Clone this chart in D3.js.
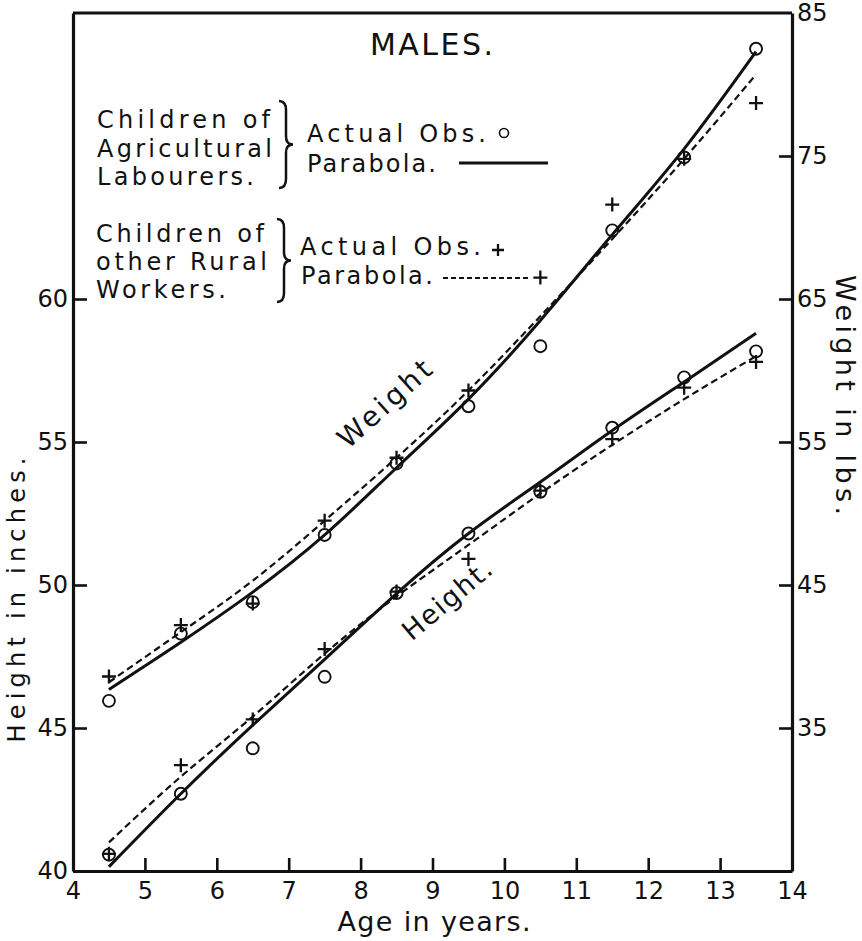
<!DOCTYPE html>
<html><head><meta charset="utf-8">
<script src="https://cdn.jsdelivr.net/npm/d3@7"></script>
<style>body{margin:0;background:#fff}</style>
</head><body><svg id="c" width="862" height="941"></svg>
<script>
// ---------- data ----------
const ages = [4.5, 5.5, 6.5, 7.5, 8.5, 9.5, 10.5, 11.5, 12.5, 13.5];
// Weight (lbs, right axis)
const weightAgriObs   = [36.9, 41.6, 43.8, 48.5, 53.5, 57.5, 61.7, 69.8, 74.9, 82.5];
const weightAgriFit   = [37.7, 41.0, 44.5, 48.5, 53.2, 58.0, 63.5, 69.5, 75.5, 82.3];
const weightOtherObs  = [38.6, 42.2, 43.7, 49.5, 53.9, 58.6, 66.5, 71.6, 74.8, 78.7];
const weightOtherFit  = [38.2, 41.7, 45.3, 49.5, 53.9, 58.6, 63.8, 69.2, 74.8, 80.7];
// Height (inches, left axis)
const heightAgriObs   = [40.57, 42.7, 44.29, 46.79, 49.72, 51.8, 53.26, 55.5, 57.26, 58.17];
const heightAgriFit   = [40.15, 42.7, 45.1, 47.4, 49.7, 51.8, 53.6, 55.4, 57.1, 58.8];
const heightOtherObs  = [40.6, 43.7, 45.3, 47.76, 49.77, 50.91, 53.3, 55.1, 56.9, 57.8];
const heightOtherFit  = [41.0, 43.3, 45.4, 47.6, 49.6, 51.4, 53.2, 54.9, 56.5, 58.0];

const xTicks = [4, 5, 6, 7, 8, 9, 10, 11, 12, 13, 14];
const heightTicks = [40, 45, 50, 55, 60];
const weightTicks = [35, 45, 55, 65, 75, 85];

const titleText = "MALES.";
const legendGroup1 = ["Children of", "Agricultural", "Labourers."];
const legendGroup2 = ["Children of", "other Rural", "Workers."];
const legendObs = "Actual Obs.";
const legendFit = "Parabola.";
const xTitle = "Age in years.";
const yLeftTitle = "Height in inches.";
const yRightTitle = "Weight in lbs.";
const curveLabels = ["Weight", "Height."];

// ---------- drawing ----------
const svg = d3.select("#c");
const ink = "#111";
const font = "DejaVu Sans";
const x = d3.scaleLinear().domain([4, 14]).range([73, 792]);
const yH = d3.scaleLinear().domain([40, 70]).range([871, 13]);
const yW = d3.scaleLinear().domain([25, 85]).range([871, 13]);

// top frame line
svg.append("line")
  .attr("x1", x(4)).attr("x2", x(14)).attr("y1", yH(70)).attr("y2", yH(70))
  .attr("stroke", ink).attr("stroke-width", 3);

function styleAxis(g, fs) {
  g.select(".domain").attr("stroke", ink).attr("stroke-width", 3.2);
  g.selectAll(".tick line").attr("stroke", ink).attr("stroke-width", 2.6);
  g.selectAll(".tick text").attr("fill", ink).attr("font-family", font).attr("font-size", fs);
}
const gx = svg.append("g").attr("transform", `translate(0,${yH(40)})`)
  .call(d3.axisBottom(x).tickValues(xTicks).tickSize(-13).tickSizeOuter(0).tickPadding(11).tickFormat(d3.format("d")));
styleAxis(gx, 24);
const gl = svg.append("g").attr("transform", `translate(${x(4)},0)`)
  .call(d3.axisLeft(yH).tickValues(heightTicks).tickSize(-14).tickSizeOuter(0).tickPadding(5));
styleAxis(gl, 24);
const gr = svg.append("g").attr("transform", `translate(${x(14)},0)`)
  .call(d3.axisRight(yW).tickValues(weightTicks).tickSize(-13).tickSizeOuter(0).tickPadding(5));
styleAxis(gr, 24);
gr.selectAll(".tick").filter(d => d === 85).select("line").remove();

// curves
function drawCurve(vals, yScale, dashed) {
  const pts = ages.map((a, i) => [a, vals[i]]);
  const line = d3.line().x(d => x(d[0])).y(d => yScale(d[1])).curve(d3.curveNatural);
  svg.append("path").attr("d", line(pts)).attr("fill", "none")
    .attr("stroke", ink)
    .attr("stroke-width", dashed ? 2.2 : 3)
    .attr("stroke-dasharray", dashed ? "7,4" : null);
}
drawCurve(weightAgriFit, yW, false);
drawCurve(weightOtherFit, yW, true);
drawCurve(heightAgriFit, yH, false);
drawCurve(heightOtherFit, yH, true);

// markers
function drawCircles(vals, yScale) {
  svg.append("g").selectAll("circle").data(ages.map((a, i) => [a, vals[i]])).join("circle")
    .attr("cx", d => x(d[0])).attr("cy", d => yScale(d[1])).attr("r", 6)
    .attr("fill", "none").attr("stroke", ink).attr("stroke-width", 1.9);
}
function drawPlus(vals, yScale) {
  svg.append("g").selectAll("path").data(ages.map((a, i) => [a, vals[i]])).join("path")
    .attr("transform", d => `translate(${x(d[0])},${yScale(d[1])})`)
    .attr("d", "M-7,0H7M0,-7V7")
    .attr("fill", "none").attr("stroke", ink).attr("stroke-width", 2.3);
}
drawCircles(weightAgriObs, yW);
drawPlus(weightOtherObs, yW);
drawCircles(heightAgriObs, yH);
drawPlus(heightOtherObs, yH);

// text helper: len = target rendered length (spacing adjusted)
function txt(s, xx, yy, fs, len, opts = {}) {
  const t = svg.append("text").attr("x", xx).attr("y", yy).text(s)
    .attr("font-family", font).attr("font-size", fs).attr("fill", ink)
    .attr("text-anchor", opts.anchor || "start");
  if (len) t.attr("textLength", len).attr("lengthAdjust", "spacing");
  if (opts.rot !== undefined) t.attr("transform", `rotate(${opts.rot},${xx},${yy})`);
  return t;
}

// title
txt(titleText, 370, 55, 30, 123);

// legend names
const lens1 = [173, 175, 157];
const lens2 = [168, 171, 130];
legendGroup1.forEach((s, i) => txt(s, 97, 128 + i * 28.5, 24, lens1[i]));
legendGroup2.forEach((s, i) => txt(s, 96, 242 + i * 28, 24, lens2[i]));

function brace(x0, top, bot) {
  const mid = (top + bot) / 2, w = 7;
  const p = `M${x0},${top} Q${x0 + w},${top} ${x0 + w},${top + 9} L${x0 + w},${mid - 8} Q${x0 + w},${mid} ${x0 + w + 7},${mid} Q${x0 + w},${mid} ${x0 + w},${mid + 8} L${x0 + w},${bot - 9} Q${x0 + w},${bot} ${x0},${bot}`;
  svg.append("path").attr("d", p).attr("fill", "none").attr("stroke", ink).attr("stroke-width", 2.5);
}
brace(279, 101, 188);
brace(277, 219, 302);

txt(legendObs, 307, 142, 24, 179);
txt(legendFit, 307, 172, 24, 129);
svg.append("circle").attr("cx", 504).attr("cy", 133).attr("r", 4.5)
  .attr("fill", "none").attr("stroke", ink).attr("stroke-width", 1.6);
svg.append("line").attr("x1", 459).attr("x2", 548).attr("y1", 163).attr("y2", 163)
  .attr("stroke", ink).attr("stroke-width", 3);

txt(legendObs, 300, 255, 24, 181);
txt(legendFit, 301, 284, 24, 132);
svg.append("path").attr("transform", "translate(498,250)").attr("d", "M-6,0H6M0,-6V6")
  .attr("stroke", ink).attr("stroke-width", 2.3);
svg.append("line").attr("x1", 443).attr("x2", 531).attr("y1", 278).attr("y2", 278)
  .attr("stroke", ink).attr("stroke-width", 2).attr("stroke-dasharray", "5,3");

// curve labels
txt(curveLabels[0], 391, 411, 28, 116, {anchor: "middle", rot: -42});
txt(curveLabels[1], 453, 607, 27, 108, {anchor: "middle", rot: -40});

// axis titles
txt(xTitle, 434, 931, 27, 193, {anchor: "middle"});
txt(yLeftTitle, 25, 600, 24, 285, {anchor: "middle", rot: -90});
txt(yRightTitle, 836, 395, 27, 240, {anchor: "middle", rot: 90});
</script>
</body></html>
